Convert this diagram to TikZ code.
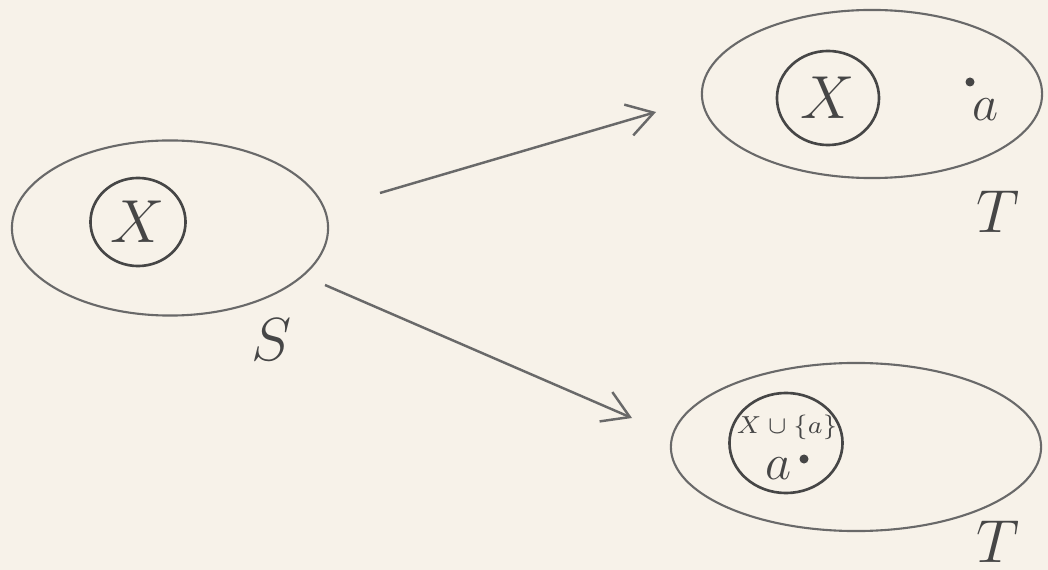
\documentclass[tikz,border=0pt]{standalone}
\usetikzlibrary{arrows.meta,shapes.geometric}
\definecolor{paper}{RGB}{247,242,233}
\definecolor{pencil}{RGB}{105,105,105}
\definecolor{lead}{RGB}{70,70,70}

\begin{document}
\begin{tikzpicture}[
  x=0.01cm, y=-0.01cm,
  blob/.style={draw=pencil, ellipse, line width=0.6pt, inner sep=0pt},
  subset/.style={draw=lead, ellipse, line width=0.75pt, inner sep=0pt, text=lead, font=\LARGE},
  lbl/.style={text=lead, inner sep=0pt, font=\LARGE},
  elem/.style={circle, fill=lead, inner sep=0pt, minimum size=0.9mm},
  arrow/.style={-{Straight Barb[length=2.6mm,width=3.2mm]}, draw=pencil, line width=0.7pt}
]
\fill[paper] (0,0) rectangle (1048,570);
\useasboundingbox (0,0) rectangle (1048,570);

% S with X inside
\node[blob, minimum width=3.16cm, minimum height=1.75cm] (S) at (170,228) {};
\node[subset, minimum width=0.95cm, minimum height=0.88cm] (X) at (138,222) {$X$};
\node[lbl] (Slbl) at (272,340) {$S$};

% T with X and a
\node[blob, minimum width=3.40cm, minimum height=1.68cm] (T) at (872,94) {};
\node[subset, minimum width=1.02cm, minimum height=0.94cm] (TX) at (828,98) {$X$};
\node[lbl, font=\Large] (a) at (986,110) {$a$};
\node[elem] (adot) at (970,82) {};
\node[lbl] (Tlbl) at (998,212) {$T$};

% T with X u {a}
\node[blob, minimum width=3.70cm, minimum height=1.68cm] (Tb) at (856,447) {};
\node[subset, minimum width=1.13cm, minimum height=1.0cm] (Xa) at (786,443) {};
\node[lbl, font=\scriptsize] (union) at (787,427) {$X\cup\{a\}$};
\node[lbl, font=\Large] (ab) at (779,469) {$a$};
\node[elem] (abdot) at (804,459) {};
\node[lbl] (Tblbl) at (998,542) {$T$};

% maps
\coordinate (s1) at (380,193);
\coordinate (t1) at (656,112);
\coordinate (s2) at (325,285);
\coordinate (t2) at (632,418);
\draw[arrow] (s1) -- (t1);
\draw[arrow] (s2) -- (t2);
\end{tikzpicture}
\end{document}
